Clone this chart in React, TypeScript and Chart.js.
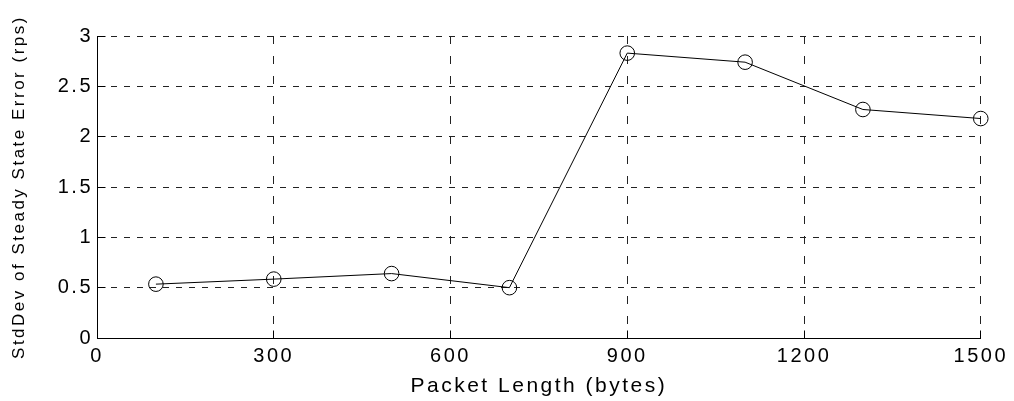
import React, { useEffect, useRef } from "react";
import { Chart, registerables } from "chart.js";

Chart.register(...registerables);

// Packet length (bytes) and the standard deviation of the steady-state error (rps)
const packetLengths = [100, 300, 500, 700, 900, 1100, 1300, 1500];
const stdDevError = [0.535, 0.585, 0.64, 0.5, 2.83, 2.74, 2.27, 2.18];

const xTickValues = [0, 300, 600, 900, 1200, 1500];
const yTickValues = [0, 0.5, 1, 1.5, 2, 2.5, 3];

const xTitle = "Packet Length (bytes)";
const yTitle = "StdDev of Steady State Error (rps)";

const FONT = "'Liberation Sans', Arial, Helvetica, sans-serif";
const TICK_LEN = 8;

const alignPx = (p: number) => Math.round(p - 0.5) + 0.5;

// Wide letter spacing for every piece of text on the canvas
const spacedText = {
  id: "spacedText",
  beforeUpdate(chart: any) {
    chart.ctx.letterSpacing = "2.5px";
  },
  beforeDraw(chart: any) {
    chart.ctx.letterSpacing = "2.5px";
  },
};

// Tick marks pointing into the plot from the left and bottom axes
const inwardTicks = {
  id: "inwardTicks",
  afterDraw(chart: any) {
    const { ctx, chartArea } = chart;
    const xs = chart.scales.x;
    const ys = chart.scales.y;
    ctx.save();
    ctx.setLineDash([]);
    ctx.strokeStyle = "#000";
    ctx.lineWidth = 1;
    ctx.beginPath();
    const bottom = alignPx(chartArea.bottom);
    const left = alignPx(chartArea.left);
    xs.ticks.forEach((t: any) => {
      const px = alignPx(xs.getPixelForValue(t.value));
      ctx.moveTo(px, bottom);
      ctx.lineTo(px, bottom - TICK_LEN);
    });
    ys.ticks.forEach((t: any) => {
      const py = alignPx(ys.getPixelForValue(t.value));
      ctx.moveTo(left, py);
      ctx.lineTo(left + TICK_LEN, py);
    });
    ctx.stroke();
    ctx.restore();
  },
};

export default function App() {
  const canvasRef = useRef<HTMLCanvasElement | null>(null);

  useEffect(() => {
    const canvas = canvasRef.current;
    if (!canvas) return;
    const chart = new Chart(canvas, {
      type: "line",
      data: {
        datasets: [
          {
            data: packetLengths.map((x, i) => ({ x, y: stdDevError[i] })),
            borderColor: "#000",
            borderWidth: 1,
            backgroundColor: "rgba(0,0,0,0)",
            pointStyle: "circle",
            pointRadius: 7.3,
            pointBorderColor: "#000",
            pointBorderWidth: 1,
            pointBackgroundColor: "rgba(0,0,0,0)",
            tension: 0,
            fill: false,
            clip: false,
          } as any,
        ],
      },
      options: {
        animation: false,
        responsive: false,
        events: [],
        layout: { padding: { left: 0, right: 32, top: 36, bottom: 0 } },
        plugins: {
          legend: { display: false },
          tooltip: { enabled: false },
          title: { display: false },
        },
        scales: {
          x: {
            type: "linear",
            min: 0,
            max: 1500,
            afterBuildTicks: (axis: any) => {
              axis.ticks = xTickValues.map((v) => ({ value: v }));
            },
            afterFit: (axis: any) => {
              axis.height = 63;
            },
            grid: {
              color: "#222",
              lineWidth: 1,
              drawTicks: false,
            },
            border: { display: true, color: "#000", width: 1, dash: [8, 12] },
            ticks: {
              color: "#000",
              padding: 6,
              maxRotation: 0,
              autoSkip: false,
              font: { family: FONT, size: 20 },
              callback: (v: any) => String(v),
            },
            title: {
              display: true,
              text: xTitle,
              color: "#000",
              font: { family: FONT, size: 21 },
              padding: { top: 0, bottom: 2 },
            },
          },
          y: {
            type: "linear",
            min: 0,
            max: 3,
            afterBuildTicks: (axis: any) => {
              axis.ticks = yTickValues.map((v) => ({ value: v }));
            },
            afterFit: (axis: any) => {
              axis.width = 97;
            },
            grid: {
              color: "#222",
              lineWidth: 1,
              drawTicks: false,
            },
            border: { display: true, color: "#000", width: 1, dash: [6, 7] },
            ticks: {
              color: "#000",
              padding: 4,
              autoSkip: false,
              font: { family: FONT, size: 20 },
              callback: (v: any) => String(v),
            },
            title: {
              display: true,
              text: yTitle,
              color: "#000",
              font: { family: FONT, size: 17 },
              padding: { top: 9, bottom: 0 },
            },
          },
        },
      },
      plugins: [spacedText, inwardTicks],
    });
    return () => chart.destroy();
  }, []);

  return (
    <div
      style={{
        position: "absolute",
        left: 0,
        top: 0,
        width: 1014,
        height: 401,
        background: "#fff",
      }}
    >
      <canvas ref={canvasRef} width={1014} height={401} />
    </div>
  );
}
